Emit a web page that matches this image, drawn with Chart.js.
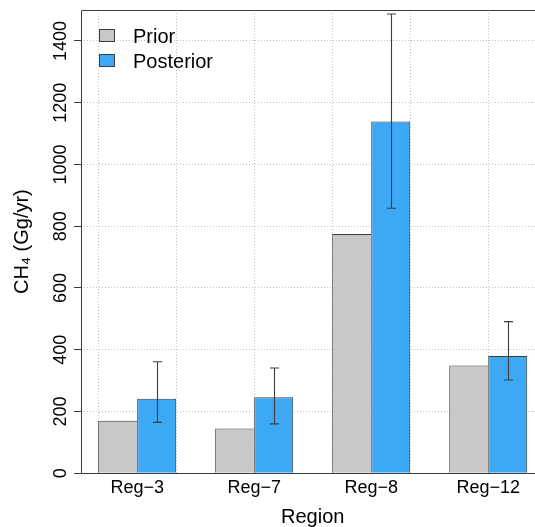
<!DOCTYPE html>
<html>
<head>
<meta charset="utf-8">
<script src="https://cdn.jsdelivr.net/npm/chart.js@4"></script>
<style>
html,body{margin:0;padding:0;background:#fff;overflow:hidden}
#wrap{width:535px;height:527px;overflow:hidden;position:relative;background:#fff}
canvas{display:block}
</style>
</head>
<body>
<div id="wrap"><canvas id="c" width="550" height="527"></canvas></div>
<script>
// ---- data ----
const regions = ['Reg\u22123', 'Reg\u22127', 'Reg\u22128', 'Reg\u221212'];
const groupPos = [2, 5, 8, 11];
const prior = [170, 145, 775, 349];
const posterior = [241, 246, 1139, 380];
const errLow = [165, 160, 858, 302];
const errHigh = [361, 341, 1487, 491];
const yTicks = [0, 200, 400, 600, 800, 1000, 1200, 1400];
const xGrid = [2, 4, 6, 8, 10, 12];
const seriesNames = ['Prior', 'Posterior'];

const FONT = '"Liberation Sans", Arial, Helvetica, sans-serif';
const priorColor = '#c8c8c8';
const postColor = '#3da8f4';
const lineColor = '#3c3c3c';
const gridColor = '#c4c4c4';

const overlay = {
  id: 'overlay',
  afterDraw(chart) {
    const ctx = chart.ctx;
    const ys = chart.scales.y;
    const area = chart.chartArea;
    const meta = chart.getDatasetMeta(1);
    ctx.save();
    // solid frame lines (left, top, bottom)
    ctx.strokeStyle = lineColor;
    ctx.lineWidth = 1;
    ctx.setLineDash([]);
    ctx.beginPath();
    ctx.moveTo(area.right, Math.round(area.top) + 0.5);
    ctx.lineTo(Math.round(area.left) + 0.5, Math.round(area.top) + 0.5);
    ctx.lineTo(Math.round(area.left) + 0.5, Math.round(area.bottom) + 0.5);
    ctx.lineTo(area.right, Math.round(area.bottom) + 0.5);
    ctx.stroke();
    // error bars
    ctx.lineWidth = 1.1;
    meta.data.forEach((bar, i) => {
      const x = Math.round(bar.x) + 0.5;
      const y1 = ys.getPixelForValue(errLow[i]);
      const y2 = ys.getPixelForValue(errHigh[i]);
      ctx.beginPath();
      ctx.moveTo(x, y1); ctx.lineTo(x, y2);
      ctx.moveTo(x - 4.5, y1); ctx.lineTo(x + 4.5, y1);
      ctx.moveTo(x - 4.5, y2); ctx.lineTo(x + 4.5, y2);
      ctx.stroke();
    });
    // legend
    const left = area.left;
    const colors = [priorColor, postColor];
    ctx.font = '20px ' + FONT;
    ctx.textBaseline = 'alphabetic';
    ctx.textAlign = 'left';
    seriesNames.forEach((name, i) => {
      const cy = 35.5 + i * 25;
      ctx.fillStyle = colors[i];
      ctx.fillRect(left + 18, cy - 6.5, 16, 13);
      ctx.strokeStyle = lineColor;
      ctx.lineWidth = 1;
      ctx.strokeRect(left + 18.5, cy - 6, 15, 12);
      ctx.fillStyle = '#000';
      ctx.fillText(name, left + 52, cy + 7);
    });
    ctx.restore();
  }
};

new Chart(document.getElementById('c'), {
  type: 'bar',
  data: {
    datasets: [
      {
        label: seriesNames[0],
        data: groupPos.map((x, i) => ({ x: x, y: prior[i] })),
        backgroundColor: priorColor,
        borderColor: lineColor,
        borderWidth: { top: 1, left: 1, right: 0, bottom: 0 },
        borderSkipped: false
      },
      {
        label: seriesNames[1],
        data: groupPos.map((x, i) => ({ x: x, y: posterior[i] })),
        backgroundColor: postColor,
        borderColor: lineColor,
        borderWidth: { top: 1, left: 1, right: 1, bottom: 0 },
        borderSkipped: false
      }
    ]
  },
  options: {
    responsive: false,
    animation: false,
    devicePixelRatio: 1,
    categoryPercentage: 2 / 3,
    barPercentage: 1,
    layout: { padding: { left: 0, top: 10, right: 5.6, bottom: 0 } },
    plugins: { legend: { display: false }, tooltip: { enabled: false } },
    scales: {
      x: {
        type: 'linear',
        position: 'bottom',
        min: 0.56,
        max: 12.44,
        offset: false,
        z: 2,
        afterBuildTicks: (s) => { s.ticks = groupPos.map(v => ({ value: v })); },
        afterFit: (s) => { s.height = 53.7; },
        ticks: {
          autoSkip: false,
          maxRotation: 0,
          minRotation: 0,
          padding: 4,
          color: '#000',
          font: { family: FONT, size: 18 },
          callback: (v, i) => regions[i]
        },
        grid: { display: false, drawTicks: false },
        border: { display: false },
        title: {
          display: true,
          text: 'Region',
          color: '#000',
          font: { family: FONT, size: 20, lineHeight: 0.95 },
          padding: { top: 0, bottom: 0 }
        }
      },
      x2: {
        type: 'linear',
        position: 'top',
        min: 0.56,
        max: 12.44,
        offset: false,
        z: 1,
        afterBuildTicks: (s) => { s.ticks = xGrid.map(v => ({ value: v })); },
        afterFit: (s) => { s.height = 0; },
        ticks: { display: false },
        grid: { color: gridColor, lineWidth: 1, drawTicks: false, borderDash: [1, 2] },
        border: { display: false, dash: [1, 2] }
      },
      y: {
        type: 'linear',
        position: 'left',
        min: 0,
        max: 1500,
        z: 1,
        afterBuildTicks: (s) => { s.ticks = yTicks.map(v => ({ value: v })); },
        afterFit: (s) => { s.width = 81; },
        ticks: {
          autoSkip: false,
          minRotation: 90,
          maxRotation: 90,
          crossAlign: 'center',
          padding: -7,
          color: '#000',
          font: { family: FONT, size: 18 },
          callback: (v) => String(v)
        },
        grid: {
          color: (c) => (c.tick && c.tick.value === 0) ? 'rgba(0,0,0,0)' : gridColor,
          borderDash: [1, 2],
          lineWidth: 1,
          drawTicks: true,
          tickLength: 7,
          tickColor: lineColor,
          tickWidth: 1,
          tickBorderDash: []
        },
        border: { display: false, dash: [1, 2] },
        title: {
          display: true,
          text: 'CH\u2084 (Gg/yr)',
          color: '#000',
          font: { family: FONT, size: 20, lineHeight: 1 },
          padding: { top: 12.6, bottom: 0 }
        }
      }
    }
  },
  plugins: [overlay]
});
</script>
</body>
</html>
